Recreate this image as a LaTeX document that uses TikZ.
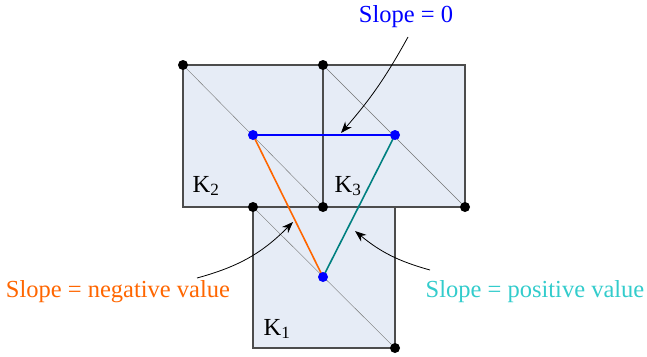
\documentclass[tikz,border=0pt]{standalone}
\usepackage{fontspec}
\setmainfont{Liberation Serif}
\usetikzlibrary{arrows.meta,positioning,calc}
\definecolor{cellfill}{RGB}{230,236,246}
\definecolor{negcol}{RGB}{255,102,0}
\definecolor{poscol}{RGB}{0,128,128}
\definecolor{poslab}{RGB}{51,204,204}

\begin{document}
\begin{tikzpicture}[x=1pt,y=-1pt,
  cell/.style={draw=black!70,line width=1.2pt,fill=cellfill},
  diag/.style={draw=black!55,line width=0.4pt},
  vtx/.style={circle,fill=black,inner sep=0pt,minimum size=10pt},
  mid/.style={circle,fill=blue,inner sep=0pt,minimum size=10pt},
  lab/.style={font=\fontsize{24.5}{28}\selectfont},
  slope/.style={line width=1.6pt},
  arr/.style={-{Stealth[length=4mm,width=3mm]},line width=0.8pt}
]
\useasboundingbox (0,0) rectangle (647,356);
% cells
\draw[cell] (183,65) rectangle (465,207);
\draw[cell] (253,207) rectangle (395,348);
\draw[black!70,line width=1.2pt] (323,65) -- (323,207);
% corner vertices
\node[vtx] (a) at (183,65) {};
\node[vtx] (b) at (323,65) {};
\node[vtx] (c) at (323,207) {};
\node[vtx] (d) at (465,207) {};
\node[vtx] (e) at (253,207) {};
\node[vtx] (f) at (395,348) {};
\draw[diag] (a) -- (c);
\draw[diag] (b) -- (d);
\draw[diag] (e) -- (f);
% midpoints
\coordinate (m2) at (253,135);
\coordinate (m3) at (395,135);
\coordinate (m1) at (323,277);
\draw[slope,blue] (m2) -- (m3);
\draw[slope,negcol] (m2) -- (m1);
\draw[slope,poscol] (m3) -- (m1);
\node[mid] at (m2) {};
\node[mid] at (m3) {};
\node[mid] at (m1) {};
% cell labels
\node[lab] (k2) at (206,186) {K\textsubscript{2}};
\node[lab] (k3) at (348,186) {K\textsubscript{3}};
\node[lab] (k1) at (277,329) {K\textsubscript{1}};
% slope labels
\node[lab,text=blue] (s0) at (406,17) {Slope = 0};
\node[lab,text=negcol] (sn) at (118,292) {Slope = negative value};
\node[lab,text=poslab] (sp) at (535,292) {Slope = positive value};
\coordinate (f0) at (408,37);
\coordinate (fn) at (197,278);
\coordinate (fp) at (430,270);
\coordinate (t0) at (341,133);
\coordinate (tn) at (293,222);
\coordinate (tp) at (355,231);
\draw[arr] (f0) to[bend left=6] (t0);
\draw[arr] (fn) to[bend right=15] (tn);
\draw[arr] (fp) to[bend left=12] (tp);
\end{tikzpicture}
\end{document}
